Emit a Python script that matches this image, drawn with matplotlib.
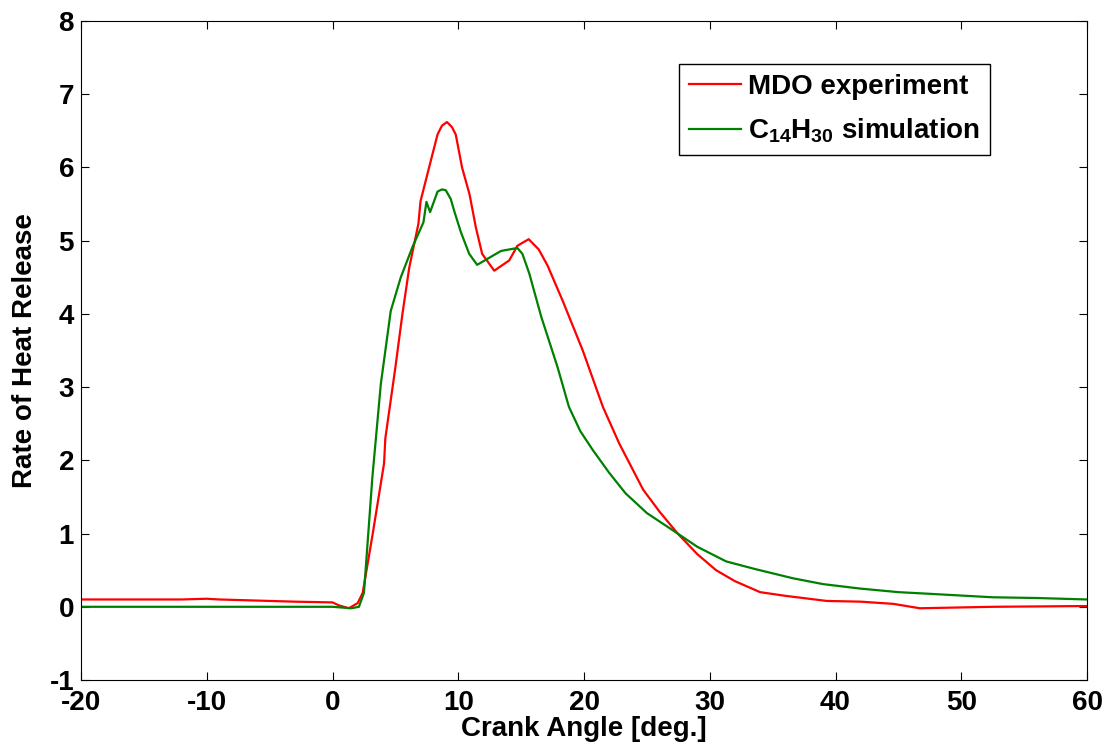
import matplotlib
matplotlib.use('Agg')
import matplotlib.pyplot as plt

# MDO experiment (red)
exp_angle = [-20, -12, -10, -9, -5, -3, 0, 0.5, 1.3, 2.0, 2.4, 3.2, 4.1, 4.2, 5.0, 5.56,
             6.1, 6.83, 7.0, 7.68, 8.35, 8.7, 9.1, 9.5, 9.8, 10.3, 10.9, 11.4, 11.9, 12.86,
             14.05, 14.7, 15.6, 16.4, 17.1, 18.3, 19.9, 21.5, 22.8, 24.7, 26.0, 27.45,
             29.0, 30.5, 32.0, 34.0, 36.0, 39.3, 42.0, 44.6, 46.7, 52.5, 59.6, 60]
exp_hrr = [0.1, 0.1, 0.11, 0.1, 0.08, 0.07, 0.06, 0.02, -0.02, 0.05, 0.19, 1.0, 1.96, 2.3,
           3.27, 4.0, 4.63, 5.23, 5.54, 6.0, 6.45, 6.57, 6.62, 6.55, 6.45, 6.0, 5.63, 5.18,
           4.82, 4.59, 4.73, 4.93, 5.02, 4.88, 4.66, 4.18, 3.5, 2.73, 2.23, 1.6, 1.3, 1.0,
           0.72, 0.5, 0.35, 0.2, 0.15, 0.08, 0.07, 0.04, -0.02, 0.0, 0.01, 0.01]

# C14H30 simulation (green)
sim_angle = [-20, 0, 1.5, 2.1, 2.5, 3.17, 3.84, 4.63, 5.43, 6.35, 7.23, 7.47, 7.76, 8.35,
             8.7, 9.0, 9.4, 9.67, 10.2, 10.87, 11.5, 13.4, 14.7, 15.1, 15.65, 16.6, 17.9,
             18.8, 19.7, 20.7, 22.0, 23.3, 25.0, 27.45, 29.0, 31.3, 33.5, 36.6, 39.0,
             41.9, 45.0, 47.2, 52.5, 56.0, 60]
sim_hrr = [0, 0, -0.02, 0, 0.19, 1.77, 3.04, 4.04, 4.5, 4.91, 5.25, 5.53, 5.39, 5.67,
           5.70, 5.69, 5.57, 5.41, 5.12, 4.82, 4.67, 4.86, 4.9, 4.82, 4.55, 3.96, 3.27,
           2.73, 2.4, 2.14, 1.83, 1.55, 1.28, 1.0, 0.82, 0.62, 0.52, 0.39, 0.31, 0.25,
           0.2, 0.18, 0.13, 0.12, 0.1]

x_ticks = list(range(-20, 61, 10))
y_ticks = list(range(-1, 9))

plt.rcParams['font.family'] = ['Liberation Sans', 'DejaVu Sans']
plt.rcParams['font.weight'] = 'bold'
plt.rcParams['axes.unicode_minus'] = False
plt.rcParams['mathtext.fontset'] = 'custom'
plt.rcParams['mathtext.rm'] = 'Liberation Sans:bold'
plt.rcParams['mathtext.bf'] = 'Liberation Sans:bold'
plt.rcParams['mathtext.it'] = 'Liberation Sans:bold'

fig = plt.figure(figsize=(11.08, 7.5), dpi=100)
ax = fig.add_axes([0.0731, 0.0933, 0.908, 0.8787])

ax.plot(exp_angle, exp_hrr, color='#ff0000', lw=1.6, label='MDO experiment')
ax.plot(sim_angle, sim_hrr, color='#008000', lw=1.6, label=r'C$_{14}$H$_{30}$ simulation')

ax.set_xlim(-20, 60)
ax.set_ylim(-1, 8)
ax.set_xticks(x_ticks)
ax.set_yticks(y_ticks)
ax.tick_params(direction='in', top=True, right=True, length=6, labelsize=20)
ax.tick_params(axis='x', pad=7)
ax.tick_params(axis='y', pad=5)
for lbl in ax.get_xticklabels() + ax.get_yticklabels():
    lbl.set_fontweight('bold')
ax.set_xlabel('Crank Angle [deg.]', fontsize=20, fontweight='bold', labelpad=0)
ax.set_ylabel('Rate of Heat Release', fontsize=20, fontweight='bold', labelpad=8)

leg = ax.legend(loc='upper right', bbox_to_anchor=(0.9036, 0.9347), fontsize=20,
                frameon=True, fancybox=False, edgecolor='black', framealpha=1,
                handlelength=1.9, handletextpad=0.25, borderpad=0.35, labelspacing=0.6,
                borderaxespad=0)
leg.get_frame().set_linewidth(1.0)

fig.savefig('out.png', dpi=100)
